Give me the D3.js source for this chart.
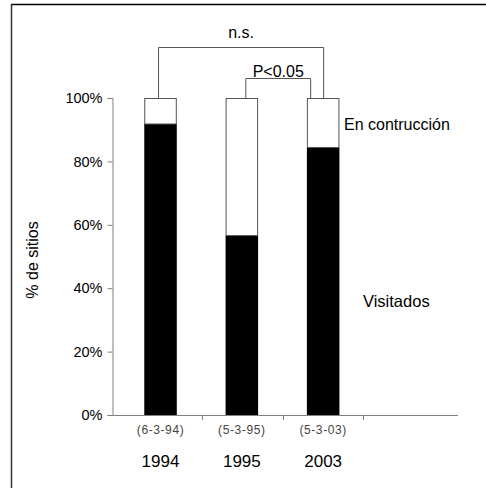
<!DOCTYPE html>
<html>
<head>
<meta charset="utf-8">
<script src="https://cdn.jsdelivr.net/npm/d3@7"></script>
<style>
  body { margin: 0; background: #fff; }
  text { font-family: "Liberation Sans", Arial, sans-serif; }
</style>
</head>
<body>
<svg id="chart"></svg>
<script>
const width = 486, height = 488;

// Data
const years = ["1994", "1995", "2003"];
const dates = ["(6-3-94)", "(5-3-95)", "(5-3-03)"];
const visitados = [91.8, 56.6, 84.4];
const enConstruccion = visitados.map(v => 100 - v);
const yTicks = [0, 20, 40, 60, 80, 100];

const svg = d3.select("#chart")
    .attr("width", width)
    .attr("height", height);

// frame (only top and left edges visible)
svg.append("line").attr("x1", 11).attr("x2", 486).attr("y1", 4.5).attr("y2", 4.5)
    .attr("stroke", "#000").attr("stroke-width", 1.5);
svg.append("line").attr("x1", 11.5).attr("x2", 11.5).attr("y1", 4).attr("y2", 488)
    .attr("stroke", "#333").attr("stroke-width", 1.5);

// Scales: 4 slots, last one empty, like the original
const x = d3.scaleBand().domain([...years, ""]).range([121.5, 443.5]).paddingInner(0.6).paddingOuter(0.28);
const slot = d3.scaleBand().domain([...years, ""]).range([121.5, 443.5]);
const y = d3.scaleLinear().domain([0, 100]).range([415, 98]);

// Y axis
const yAxis = svg.append("g")
    .attr("transform", "translate(112.5,0)")
    .call(d3.axisLeft(y).tickValues(yTicks).tickFormat(d => d + "%").tickSize(5).tickPadding(5));
yAxis.select(".domain").attr("stroke", "#808080");
yAxis.selectAll(".tick line").attr("stroke", "#808080");
yAxis.selectAll(".tick text").attr("font-size", 14.5).attr("fill", "#000")
    .attr("font-family", "Liberation Sans, Arial, sans-serif");

// X axis line with ticks between categories
svg.append("line").attr("x1", 112).attr("x2", 458).attr("y1", 415.5).attr("y2", 415.5)
    .attr("stroke", "#808080");
svg.append("g").selectAll("line")
    .data(years)
    .join("line")
    .attr("x1", d => Math.round(slot(d) + slot.bandwidth()) + 0.5)
    .attr("x2", d => Math.round(slot(d) + slot.bandwidth()) + 0.5)
    .attr("y1", 415).attr("y2", 420)
    .attr("stroke", "#808080");

// Bars
const bars = svg.append("g");
bars.selectAll(".vis")
    .data(years)
    .join("rect")
    .attr("x", d => x(d))
    .attr("width", x.bandwidth())
    .attr("y", (d, i) => y(visitados[i]))
    .attr("height", (d, i) => y(0) - y(visitados[i]))
    .attr("fill", "#000");
bars.selectAll(".cons")
    .data(years)
    .join("rect")
    .attr("x", d => x(d) + 0.5)
    .attr("width", x.bandwidth() - 1)
    .attr("y", y(100) + 0.5)
    .attr("height", (d, i) => y(100 - enConstruccion[i]) - y(100) - 0.5)
    .attr("fill", "#fff")
    .attr("stroke", "#555")
    .attr("stroke-width", 1);

// Category labels
svg.append("g").selectAll("text")
    .data(dates)
    .join("text")
    .attr("x", (d, i) => x(years[i]) + x.bandwidth() / 2)
    .attr("y", 434)
    .attr("text-anchor", "middle")
    .attr("font-size", 12)
    .attr("letter-spacing", 0.6)
    .attr("fill", "#444")
    .text(d => d);
svg.append("g").selectAll("text")
    .data(years)
    .join("text")
    .attr("x", d => x(d) + x.bandwidth() / 2)
    .attr("y", 467)
    .attr("text-anchor", "middle")
    .attr("font-size", 17)
    .attr("fill", "#000")
    .text(d => d);

// Y label
svg.append("text")
    .attr("transform", "translate(38,260) rotate(-90)")
    .attr("text-anchor", "middle")
    .attr("font-size", 16)
    .text("% de sitios");

// Series labels
svg.append("text").attr("x", 344).attr("y", 130).attr("font-size", 16).text("En contrucción");
svg.append("text").attr("x", 363).attr("y", 307).attr("font-size", 16.5).text("Visitados");

// Significance brackets
function bracket(a, b, yTop, offA, offB, label, labelY) {
    const xa = x(a) + x.bandwidth() / 2 + offA;
    const xb = x(b) + x.bandwidth() / 2 + offB;
    svg.append("path")
        .attr("d", `M${xa},${y(100)}V${yTop}H${xb}V${y(100)}`)
        .attr("fill", "none")
        .attr("stroke", "#555");
    svg.append("text")
        .attr("x", (xa + xb) / 2)
        .attr("y", labelY)
        .attr("text-anchor", "middle")
        .attr("font-size", 16)
        .text(label);
}
bracket("1994", "2003", 47.5, -2, 0.5, "n.s.", 38);
bracket("1995", "2003", 78.5, 4, -12.5, "P<0.05", 77);
</script>
</body>
</html>
